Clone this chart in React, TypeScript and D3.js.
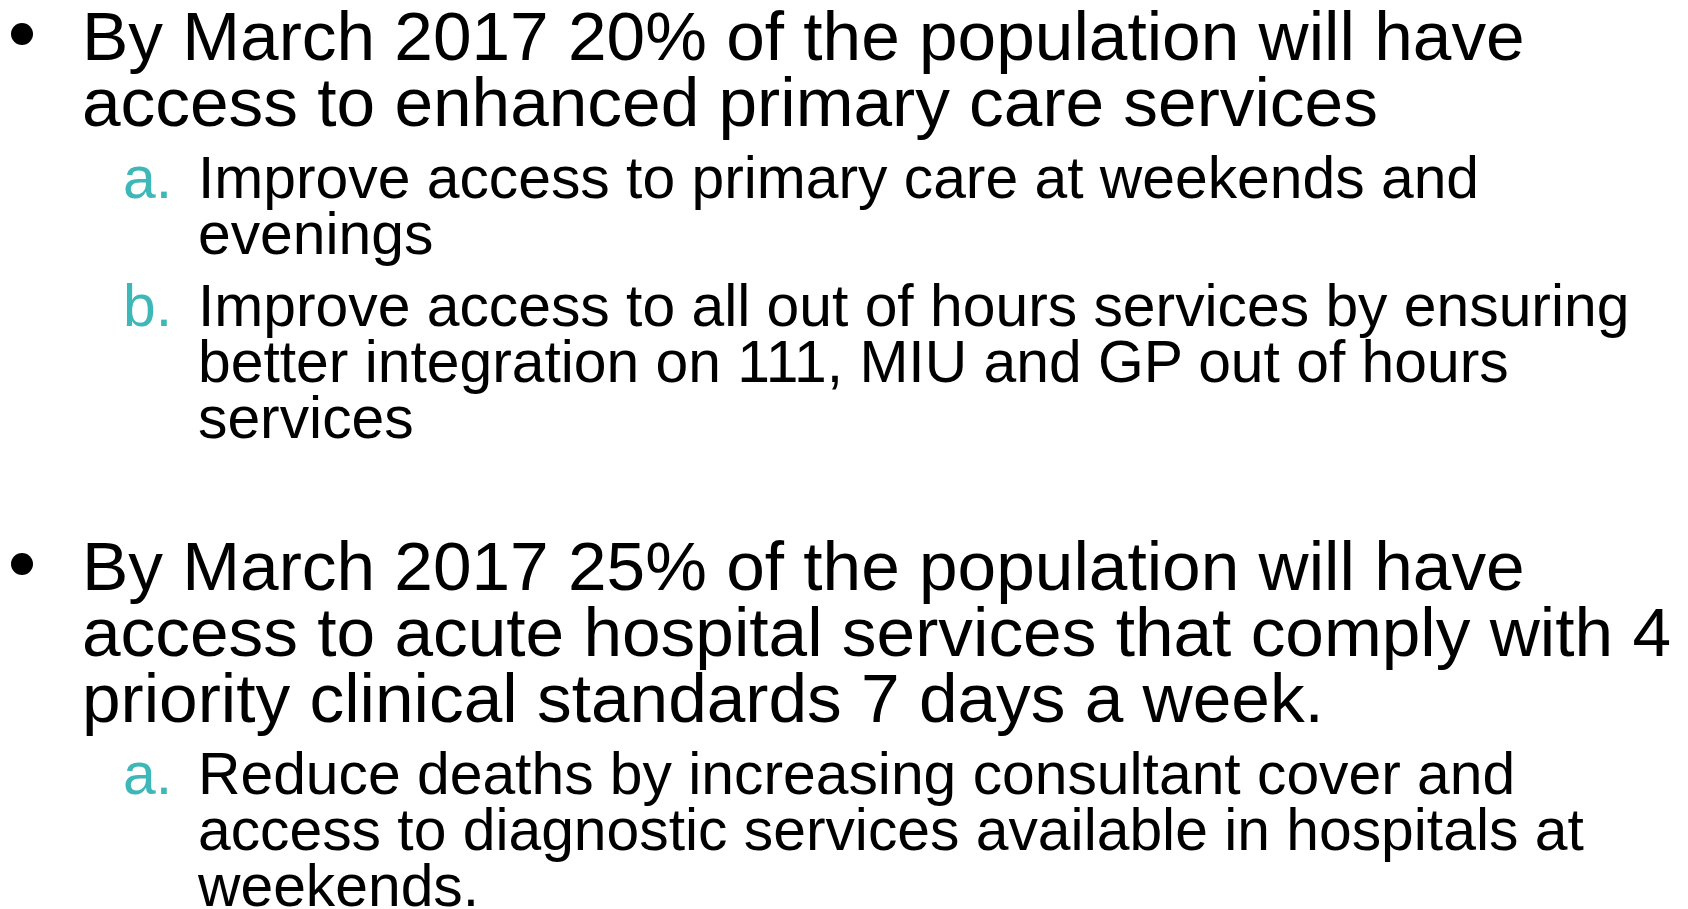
import React from "react";
import * as d3 from "d3";

// slide content, one entry per bullet block
const levels = ["main", "sub", "sub", "main", "sub"];
const markers = ["•", "a.", "b.", "•", "a."];
const blockLines = [
  ["By March 2017 20% of the population will have", "access to enhanced primary care services"],
  ["Improve access to primary care at weekends and", "evenings"],
  [
    "Improve access to all out of hours services by ensuring",
    "better integration on 111, MIU and GP out of hours",
    "services",
  ],
  [
    "By March 2017 25% of the population will have",
    "access to acute hospital services that comply with 4",
    "priority clinical standards 7 days a week.",
  ],
  [
    "Reduce deaths by increasing consultant cover and",
    "access to diagnostic services available in hospitals at",
    "weekends.",
  ],
];
// extra space before each block (blank paragraph before the 2nd main bullet)
const gapBefore = [0, 0, 0, 1, 0];

const W = 1688;
const H = 909;

const style = {
  main: { size: 69.4, lead: 66, textX: 82, markX: 22 },
  sub: { size: 58.8, lead: 56, textX: 198, markX: 123 },
};
const TEAL = "#3db7b7";
const FONT = "'Liberation Sans', Arial, Helvetica, sans-serif";

export default function App() {
  // lay the blocks out top to bottom
  let y = 60;
  let prev: string | null = null;
  const laid = blockLines.map((lines, i) => {
    const s = style[levels[i]];
    if (prev) {
      y += levels[i] === "sub" ? 72 : 74;
      y += gapBefore[i] * 78;
    }
    const first = y;
    y += (lines.length - 1) * s.lead;
    prev = levels[i];
    return { lines, first, s, level: levels[i], marker: markers[i] };
  });

  return (
    <svg
      width={W}
      height={H}
      style={{ position: "absolute", left: 0, top: 0, background: "#fff" }}
      fontFamily={FONT}
    >
      {laid.map((b, i) => (
        <g key={i}>
          {b.level === "main" ? (
            <circle cx={b.s.markX} cy={b.first - 26} r={11} fill="#000" />
          ) : (
            <text x={b.s.markX} y={b.first} fontSize={b.s.size} fill={TEAL}>
              {b.marker}
            </text>
          )}
          {b.lines.map((ln, j) => (
            <text key={j} x={b.s.textX} y={b.first + j * b.s.lead} fontSize={b.s.size} fill="#000">
              {ln}
            </text>
          ))}
        </g>
      ))}
    </svg>
  );
}
